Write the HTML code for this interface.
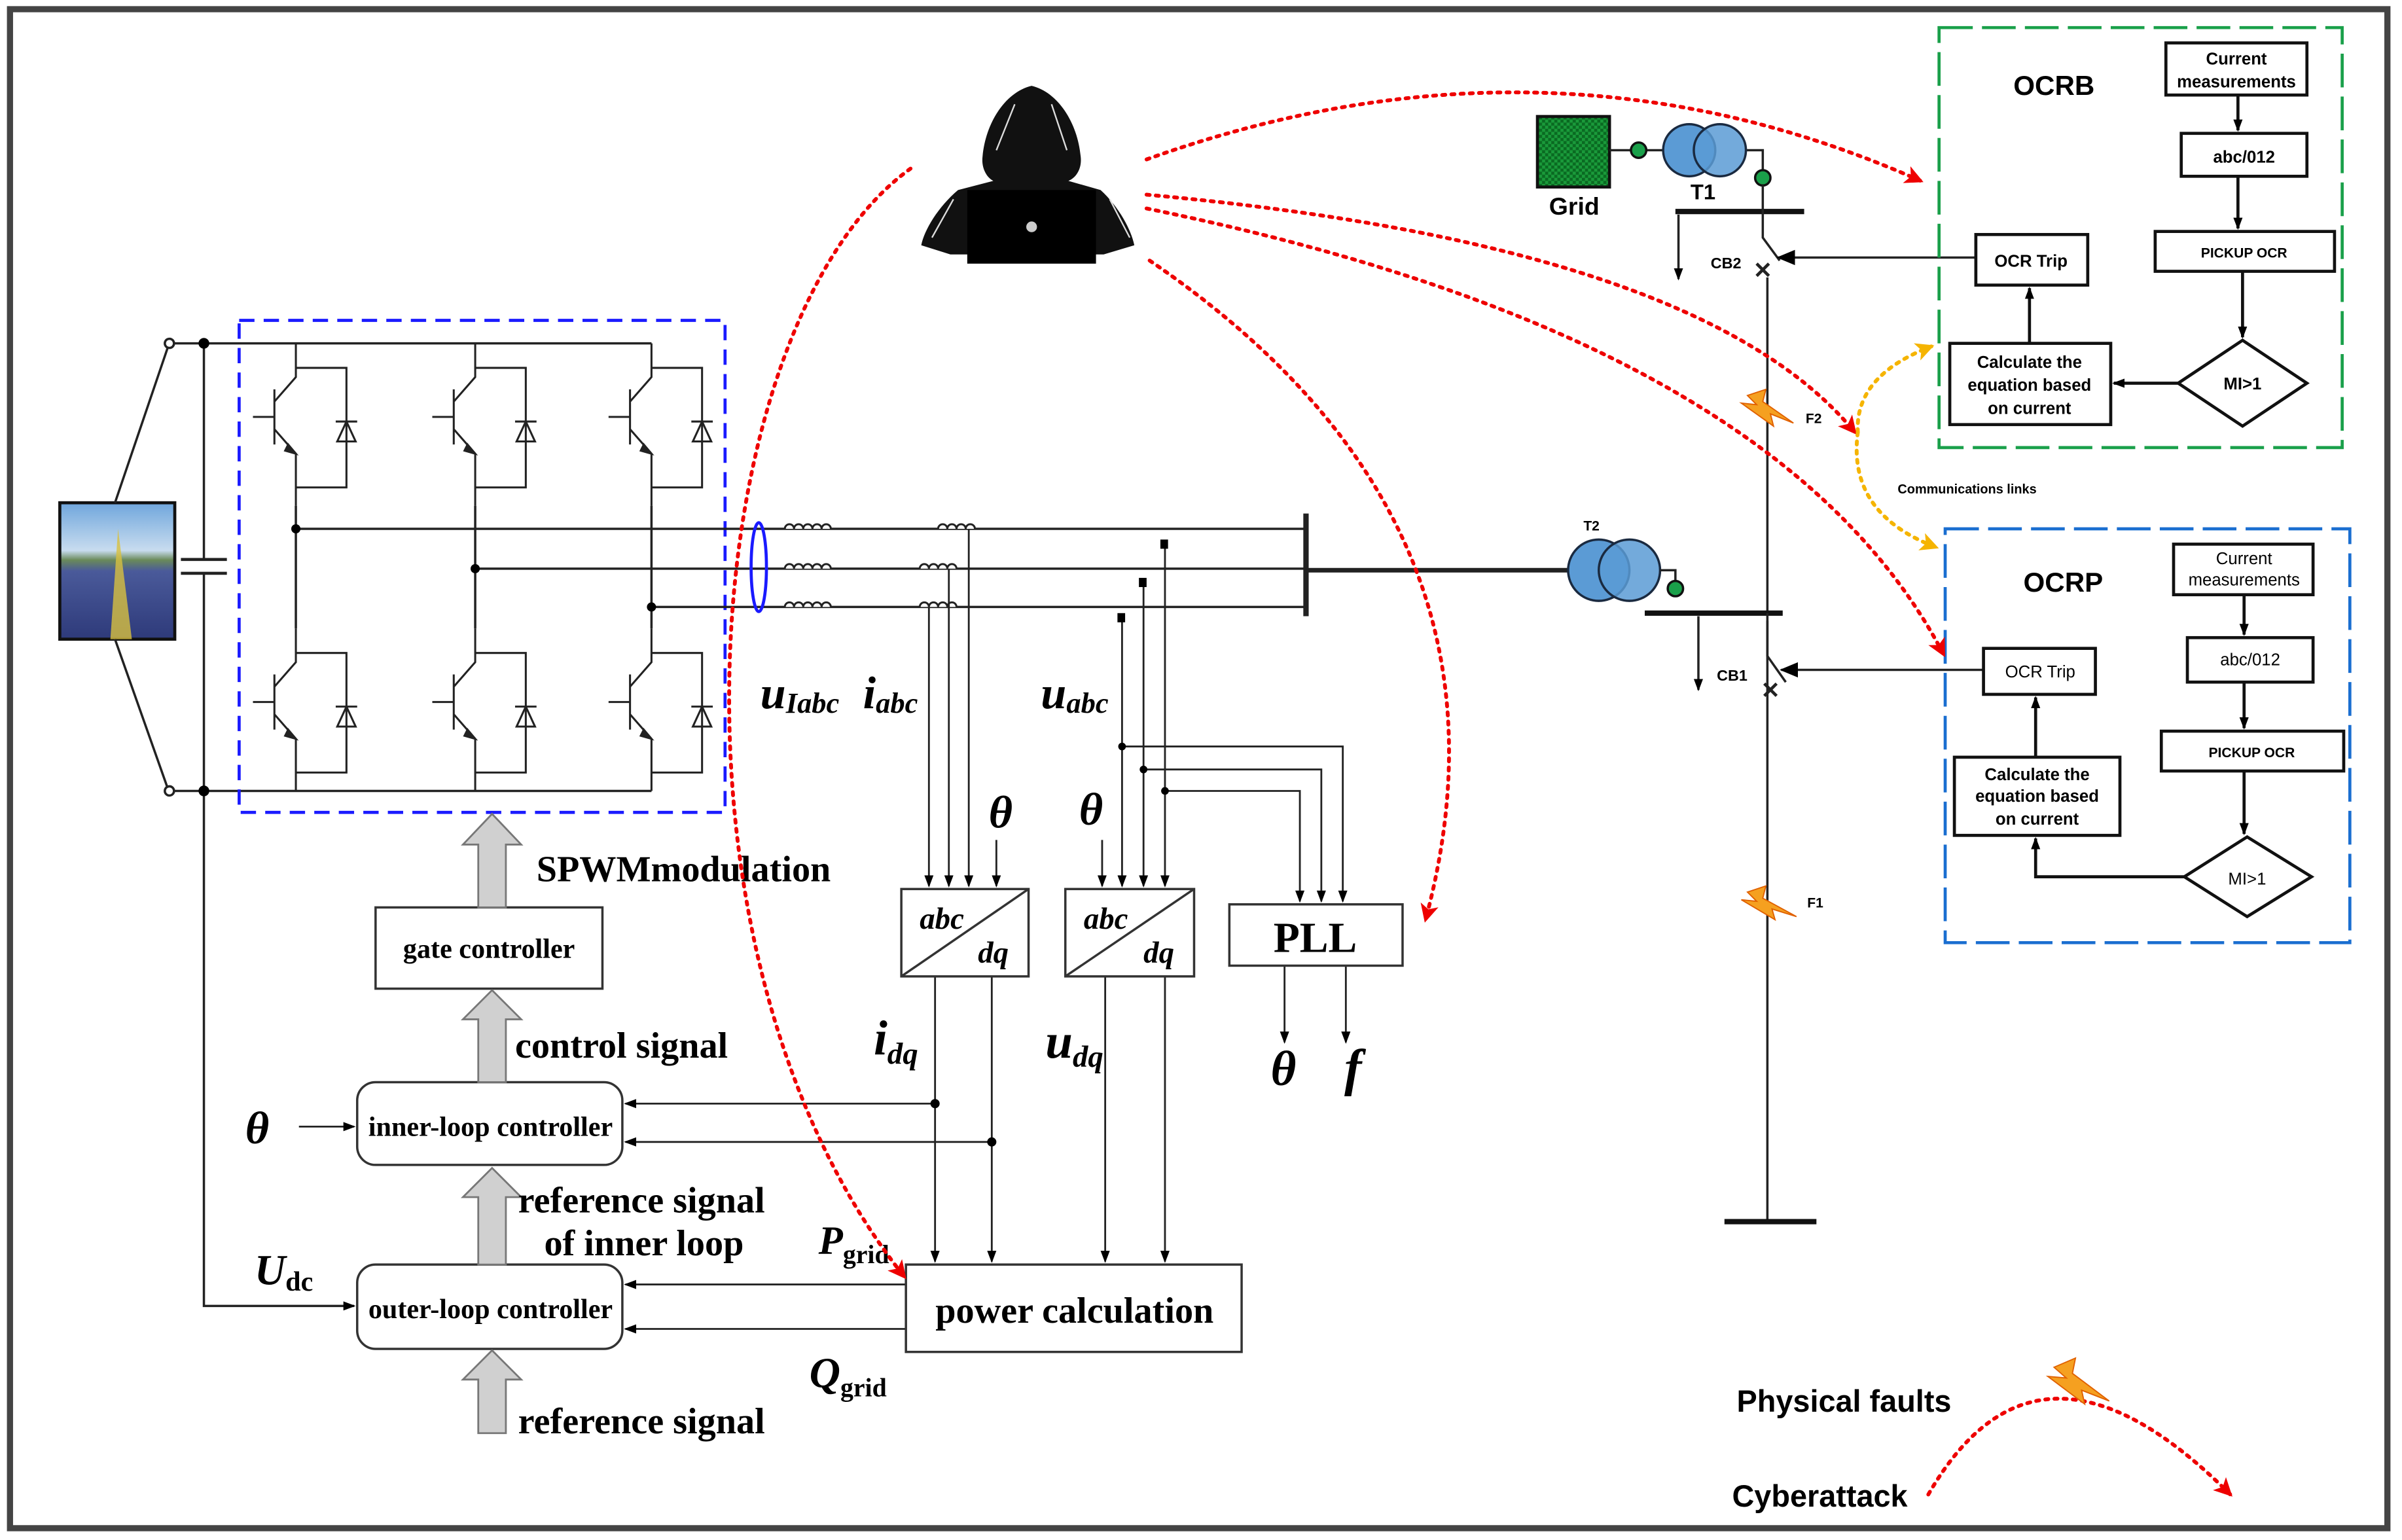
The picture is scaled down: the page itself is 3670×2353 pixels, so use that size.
<!DOCTYPE html>
<html><head><meta charset="utf-8"><style>
html,body{margin:0;padding:0;background:#fff;}
svg{display:block;}
.s{font-family:"Liberation Serif",serif;font-weight:bold;}
.m{font-family:"Liberation Serif",serif;font-weight:bold;font-style:italic;}
.a{font-family:"Liberation Sans",sans-serif;font-weight:bold;}
</style></head><body>
<svg width="3670" height="2353" viewBox="0 0 1567 1004.7" xmlns="http://www.w3.org/2000/svg">
<defs>
<marker id="ab" markerWidth="8" markerHeight="8" refX="7" refY="4" orient="auto" markerUnits="userSpaceOnUse"><path d="M0,1 L8,4 L0,7 Z" fill="#000"/></marker>
<marker id="ab2" markerWidth="12" markerHeight="12" refX="11" refY="6" orient="auto" markerUnits="userSpaceOnUse"><path d="M0,1 L12,6 L0,11 Z" fill="#000"/></marker>
<marker id="ar" markerWidth="12" markerHeight="12" refX="10" refY="6" orient="auto" markerUnits="userSpaceOnUse"><path d="M0,0 L12,6 L0,12 L3,6 Z" fill="#e00"/></marker>
<marker id="ay" markerWidth="12" markerHeight="12" refX="10" refY="6" orient="auto" markerUnits="userSpaceOnUse"><path d="M0,0 L12,6 L0,12 L3,6 Z" fill="#f5b400"/></marker>
<linearGradient id="pv" x1="0" y1="0" x2="0" y2="1"><stop offset="0" stop-color="#6fa6dc"/><stop offset="0.35" stop-color="#c8dcef"/><stop offset="0.42" stop-color="#6a8a5a"/><stop offset="0.5" stop-color="#4a5a9a"/><stop offset="1" stop-color="#2e3a7a"/></linearGradient>
<pattern id="gp" width="4" height="4" patternUnits="userSpaceOnUse"><rect width="4" height="4" fill="#1a9a3a"/><rect width="2" height="2" fill="#0a6a22"/><rect x="2" y="2" width="2" height="2" fill="#0a6a22"/></pattern>
<g id="sw" fill="none" stroke="#222" stroke-width="1.3">
<path d="M0,0 V22 L-14,38 M-14,30 V66 M-28,48 H-14 M-14,56 L0,72 V106"/>
<path d="M-5,66 L0,72 L-7,70 Z" fill="#222"/>
<path d="M0,16 H33 V94 H0"/>
<path d="M27,64 L39,64 L33,51 Z M26,51 H40"/>
</g>
</defs>
<rect x="0" y="0" width="1567" height="1004.7" fill="#fff"/>
<rect x="6.5" y="6" width="1551" height="991" fill="none" stroke="#444" stroke-width="4"/>

<!-- PV -->
<rect x="39" y="328" width="75" height="89" fill="url(#pv)" stroke="#111" stroke-width="2"/>
<path d="M77,345 L72,417 L86,417 Z" fill="#d8c040" opacity="0.8"/>
<g stroke="#222" stroke-width="1.5" fill="none">
<path d="M75,328 L110,225 M75,417 L110,516"/>
<circle cx="110.5" cy="224" r="3" fill="#fff"/><circle cx="110.5" cy="516" r="3" fill="#fff"/>
<path d="M113,224 H425 M113,516 H425 M133,224 V365 M133,374 V852 H231" />
<path d="M118,365 H148 M118,374 H148" stroke-width="2"/>
</g>
<circle cx="133" cy="224" r="3.5"/><circle cx="133" cy="516" r="3.5"/>
<path d="M133,852 H231" stroke="#222" marker-end="url(#ab)"/>

<!-- inverter -->
<rect x="156" y="209" width="317" height="321" fill="none" stroke="#1a1aff" stroke-width="2" stroke-dasharray="10 6"/>
<use href="#sw" x="193" y="224"/><use href="#sw" x="310" y="224"/><use href="#sw" x="425" y="224"/>
<use href="#sw" x="193" y="410"/><use href="#sw" x="310" y="410"/><use href="#sw" x="425" y="410"/>
<g stroke="#222" stroke-width="1.5" fill="none">
<path d="M193,330 V410 M310,330 V410 M425,330 V410"/>
<path d="M193,345 H852 M310,371 H852 M425,396 H852"/>
<path d="M852,335 V402" stroke-width="3.5"/>
<path d="M852,372 H1023" stroke-width="3"/>
</g>
<circle cx="193" cy="345" r="3"/><circle cx="310" cy="371" r="3"/><circle cx="425" cy="396" r="3"/>
<!-- inductors -->
<g fill="#fff" stroke="#222" stroke-width="1.3">
<path d="M512,345 a3,3 0 0 1 6,0 a3,3 0 0 1 6,0 a3,3 0 0 1 6,0 a3,3 0 0 1 6,0 a3,3 0 0 1 6,0"/>
<path d="M512,371 a3,3 0 0 1 6,0 a3,3 0 0 1 6,0 a3,3 0 0 1 6,0 a3,3 0 0 1 6,0 a3,3 0 0 1 6,0"/>
<path d="M512,396 a3,3 0 0 1 6,0 a3,3 0 0 1 6,0 a3,3 0 0 1 6,0 a3,3 0 0 1 6,0 a3,3 0 0 1 6,0"/>
<path d="M612,345 a3,3 0 0 1 6,0 a3,3 0 0 1 6,0 a3,3 0 0 1 6,0 a3,3 0 0 1 6,0"/>
<path d="M600,371 a3,3 0 0 1 6,0 a3,3 0 0 1 6,0 a3,3 0 0 1 6,0 a3,3 0 0 1 6,0"/>
<path d="M600,396 a3,3 0 0 1 6,0 a3,3 0 0 1 6,0 a3,3 0 0 1 6,0 a3,3 0 0 1 6,0"/>
</g>
<ellipse cx="495" cy="370" rx="5" ry="29" fill="none" stroke="#1a1aff" stroke-width="2"/>

<!-- taps -->
<g stroke="#222" stroke-width="1.2" fill="none">
<path d="M606,396 V578" marker-end="url(#ab)"/>
<path d="M619,371 V578" marker-end="url(#ab)"/>
<path d="M632,345 V578" marker-end="url(#ab)"/>
<path d="M650,548 V578" marker-end="url(#ab)"/>
<path d="M732,403 V578" marker-end="url(#ab)"/>
<path d="M746,380 V578" marker-end="url(#ab)"/>
<path d="M760,355 V578" marker-end="url(#ab)"/>
<path d="M719,548 V578" marker-end="url(#ab)"/>
<path d="M732,487 H876 V588" marker-end="url(#ab)"/>
<path d="M746,502 H862 V588" marker-end="url(#ab)"/>
<path d="M760,516 H848 V588" marker-end="url(#ab)"/>
<path d="M838,630 V680" marker-end="url(#ab)"/>
<path d="M878,630 V680" marker-end="url(#ab)"/>
<path d="M610,637 V823" marker-end="url(#ab)"/>
<path d="M647,637 V823" marker-end="url(#ab)"/>
<path d="M721,637 V823" marker-end="url(#ab)"/>
<path d="M760,637 V823" marker-end="url(#ab)"/>
<path d="M610,720 H408" marker-end="url(#ab)"/>
<path d="M647,745 H408" marker-end="url(#ab)"/>
<path d="M591,838 H408" marker-end="url(#ab)"/>
<path d="M591,867 H408" marker-end="url(#ab)"/>
<path d="M195,735 H231" marker-end="url(#ab)"/>
</g>
<rect x="729" y="400" width="5" height="6"/><rect x="743" y="377" width="5" height="6"/><rect x="757" y="352" width="5" height="6"/>
<circle cx="732" cy="487" r="2.5"/><circle cx="746" cy="502" r="2.5"/><circle cx="760" cy="516" r="2.5"/>
<circle cx="610" cy="720" r="3"/><circle cx="647" cy="745" r="3"/>

<!-- blocks -->
<g fill="#fff" stroke="#333" stroke-width="1.5">
<rect x="588" y="580" width="83" height="57"/><rect x="695" y="580" width="84" height="57"/>
<rect x="802" y="590" width="113" height="40"/>
<rect x="245" y="592" width="148" height="53"/>
<rect x="233" y="706" width="173" height="54" rx="12"/>
<rect x="233" y="825" width="173" height="55" rx="12"/>
<rect x="591" y="825" width="219" height="57"/>
</g>
<path d="M588,637 L671,580 M695,637 L779,580" stroke="#333" stroke-width="1.5"/>
<text x="600" y="606" class="m" font-size="20">abc</text><text x="638" y="628" class="m" font-size="20">dq</text>
<text x="707" y="606" class="m" font-size="20">abc</text><text x="746" y="628" class="m" font-size="20">dq</text>
<text x="858" y="621" class="s" font-size="28" text-anchor="middle" font-weight="normal">PLL</text>
<text x="319" y="625" class="s" font-size="18" text-anchor="middle">gate controller</text>
<text x="320" y="741" class="s" font-size="18" text-anchor="middle">inner-loop controller</text>
<text x="320" y="860" class="s" font-size="18" text-anchor="middle">outer-loop controller</text>
<text x="701" y="863" class="s" font-size="24" text-anchor="middle">power calculation</text>

<!-- gray arrows -->
<g fill="#d0d0d0" stroke="#777" stroke-width="1.2">
<path d="M312,592 V551 H302 L321,531 L340,551 H330 V592 Z"/>
<path d="M312,706 V665 H302 L321,646 L340,665 H330 V706 Z"/>
<path d="M312,825 V781 H302 L321,762 L340,781 H330 V825 Z"/>
<path d="M312,935 V900 H302 L321,881 L340,900 H330 V935 Z"/>
</g>
<text x="350" y="575" class="s" font-size="24">SPWMmodulation</text>
<text x="336" y="690" class="s" font-size="24">control signal</text>
<text x="338" y="791" class="s" font-size="24">reference signal</text>
<text x="355" y="819" class="s" font-size="24">of inner loop</text>
<text x="338" y="935" class="s" font-size="24">reference signal</text>

<!-- math labels -->
<text x="496" y="462" class="m" font-size="30">u<tspan font-size="19" dy="3">Iabc</tspan></text>
<text x="563" y="462" class="m" font-size="30">i<tspan font-size="19" dy="3">abc</tspan></text>
<text x="679" y="462" class="m" font-size="30" font-weight="normal">u<tspan font-size="19" dy="3" font-weight="bold">abc</tspan></text>
<text x="645" y="540" class="m" font-size="30" font-weight="normal">θ</text>
<text x="704" y="538" class="m" font-size="30" font-weight="normal">θ</text>
<text x="570" y="688" class="m" font-size="32">i<tspan font-size="20" dy="6">dq</tspan></text>
<text x="682" y="690" class="m" font-size="32" font-weight="normal">u<tspan font-size="20" dy="6">dq</tspan></text>
<text x="829" y="708" class="m" font-size="32">θ</text>
<text x="877" y="708" class="m" font-size="34">f</text>
<text x="160" y="746" class="m" font-size="30">θ</text>
<text x="166" y="838" class="m" font-size="28">U<tspan class="s" font-style="normal" font-size="18" dy="4">dc</tspan></text>
<text x="534" y="818" class="m" font-size="26" font-weight="normal">P<tspan class="s" font-style="normal" font-size="17" dy="6">grid</tspan></text>
<text x="528" y="905" class="m" font-size="28">Q<tspan class="s" font-style="normal" font-size="17" dy="6" font-weight="normal">grid</tspan></text>

<!-- hacker -->
<path d="M673,56 C656,60 643,80 641,102 C640,110 644,116 648,118 L625,124 C612,135 603,150 601,160 L620,166 L720,166 L740,160 C738,150 730,135 718,124 L697,118 C702,116 706,110 705,102 C703,80 690,60 673,56 Z" fill="#111"/>
<path d="M622,130 L608,155 M724,130 L737,155 M662,68 L650,98 M686,68 L696,98" stroke="#ddd" stroke-width="1"/>
<rect x="631" y="124" width="84" height="48" fill="#000"/>
<circle cx="673" cy="148" r="3.5" fill="#ccc"/>

<!-- grid side -->
<rect x="1003" y="76" width="47" height="46" fill="url(#gp)" stroke="#111" stroke-width="2"/>
<text x="1027" y="140" class="a" font-size="16" font-weight="normal" text-anchor="middle">Grid</text>
<g stroke="#222" stroke-width="1.5" fill="none">
<path d="M1050,98 H1085 M1139,98 H1150 V112"/>
</g>
<circle cx="1069" cy="98" r="5" fill="#1aa04a" stroke="#111" stroke-width="1.5"/>
<circle cx="1102" cy="98" r="17" fill="#5b9bd5" stroke="#1a2a40" stroke-width="1.5"/>
<circle cx="1122" cy="98" r="17" fill="#5b9bd5" stroke="#1a2a40" stroke-width="1.5" fill-opacity="0.85"/>
<circle cx="1150" cy="116" r="5" fill="#1aa04a" stroke="#111" stroke-width="1.5"/>
<text x="1111" y="130" class="a" font-size="14" font-weight="normal" text-anchor="middle">T1</text>
<path d="M1093,138 H1177" stroke="#111" stroke-width="3.5"/>
<g stroke="#222" stroke-width="1.5" fill="none">
<path d="M1150,121 V155 L1161,170" />
<path d="M1095,140 V182" marker-end="url(#ab)"/>
<path d="M1153,181 V400 M1153,405 V797"/>
<path d="M1146,172 L1154,180 M1154,172 L1146,180" stroke-width="2"/>
<path d="M1289,168 H1160" marker-end="url(#ab2)"/>
</g>
<text x="1116" y="175" class="a" font-size="10">CB2</text>
<path d="M1125,797 H1185" stroke="#111" stroke-width="3.5"/>
<!-- T2 -->
<circle cx="1043" cy="372" r="20" fill="#5b9bd5" stroke="#1a2a40" stroke-width="1.5"/>
<circle cx="1063" cy="372" r="20" fill="#5b9bd5" stroke="#1a2a40" stroke-width="1.5" fill-opacity="0.85"/>
<text x="1033" y="346" class="a" font-size="9">T2</text>
<path d="M1083,372 H1093 V380" stroke="#222" stroke-width="1.5" fill="none"/>
<circle cx="1093" cy="384" r="5" fill="#1aa04a" stroke="#111" stroke-width="1.5"/>
<path d="M1073,400 H1163" stroke="#111" stroke-width="3.5"/>
<g stroke="#222" stroke-width="1.5" fill="none">
<path d="M1108,402 V450" marker-end="url(#ab)"/>
<path d="M1153,400 V428 L1165,445"/>
<path d="M1151,446 L1159,454 M1159,446 L1151,454" stroke-width="2"/>
<path d="M1294,437 H1162" marker-end="url(#ab2)"/>
</g>
<text x="1120" y="444" class="a" font-size="10">CB1</text>
<!-- lightning -->
<path d="M1140,258 L1152,254 L1150,262 L1170,276 L1155,270 L1157,278 L1136,263 L1146,264 Z" fill="#f5a020" stroke="#e06000" stroke-width="0.8"/>
<text x="1178" y="276" class="a" font-size="9">F2</text>
<path d="M1140,582 L1152,578 L1150,586 L1172,598 L1156,593 L1158,600 L1136,587 L1146,588 Z" fill="#f5a020" stroke="#e06000" stroke-width="0.8"/>
<text x="1179" y="592" class="a" font-size="9">F1</text>

<!-- OCRB -->
<rect x="1265" y="18" width="263" height="274" fill="none" stroke="#1aa04a" stroke-width="2" stroke-dasharray="22 6"/>
<text x="1340" y="62" class="a" font-size="18" font-weight="normal" text-anchor="middle">OCRB</text>
<g fill="#fff" stroke="#111" stroke-width="2">
<rect x="1413" y="28" width="92" height="34"/>
<rect x="1423" y="87" width="82" height="28"/>
<rect x="1406" y="151" width="117" height="26"/>
<rect x="1289" y="153" width="73" height="33"/>
<rect x="1272" y="224" width="105" height="53"/>
<path d="M1421,250 L1463,222 L1505,250 L1463,278 Z"/>
</g>
<g stroke="#111" stroke-width="2" fill="none">
<path d="M1460,62 V85" marker-end="url(#ab)"/>
<path d="M1460,115 V149" marker-end="url(#ab)"/>
<path d="M1463,177 V220" marker-end="url(#ab)"/>
<path d="M1421,250 H1379" marker-end="url(#ab)"/>
<path d="M1324,224 V188" marker-end="url(#ab)"/>
</g>
<g class="a" font-size="11" text-anchor="middle">
<text x="1459" y="42">Current</text><text x="1459" y="57">measurements</text>
<text x="1464" y="106">abc/012</text>
<text x="1464" y="168" font-size="9">PICKUP  OCR</text>
<text x="1325" y="174">OCR Trip</text>
<text x="1324" y="240">Calculate the</text><text x="1324" y="255">equation based</text><text x="1324" y="270">on current</text>
<text x="1463" y="254">MI&gt;1</text>
</g>
<!-- OCRP -->
<rect x="1269" y="345" width="264" height="270" fill="none" stroke="#1a6ed0" stroke-width="2" stroke-dasharray="22 6"/>
<text x="1346" y="386" class="a" font-size="18" font-weight="normal" text-anchor="middle">OCRP</text>
<g fill="#fff" stroke="#111" stroke-width="2">
<rect x="1418" y="355" width="91" height="33"/>
<rect x="1427" y="416" width="82" height="29"/>
<rect x="1410" y="477" width="119" height="26"/>
<rect x="1294" y="423" width="73" height="30"/>
<rect x="1275" y="494" width="108" height="51"/>
<path d="M1425,572 L1466,546 L1508,572 L1466,598 Z"/>
</g>
<g stroke="#111" stroke-width="2" fill="none">
<path d="M1464,388 V414" marker-end="url(#ab)"/>
<path d="M1464,445 V475" marker-end="url(#ab)"/>
<path d="M1464,503 V544" marker-end="url(#ab)"/>
<path d="M1425,572 H1328 V547" marker-end="url(#ab)"/>
<path d="M1328,494 V455" marker-end="url(#ab)"/>
</g>
<g class="a" font-size="11" text-anchor="middle">
<text x="1464" y="368" font-weight="normal">Current</text><text x="1464" y="382" font-weight="normal">measurements</text>
<text x="1468" y="434" font-weight="normal">abc/012</text>
<text x="1469" y="494" font-size="9">PICKUP  OCR</text>
<text x="1331" y="442" font-weight="normal">OCR Trip</text>
<text x="1329" y="509">Calculate the</text><text x="1329" y="523">equation based</text><text x="1329" y="538">on current</text>
<text x="1466" y="577" font-weight="normal">MI&gt;1</text>
</g>
<text x="1238" y="322" class="a" font-size="8.5">Communications links</text>

<!-- cyber curves -->
<g fill="none" stroke="#e00" stroke-width="2.5" stroke-dasharray="2 4" stroke-linecap="round">
<path d="M594,110 C455,210 420,620 590,833" marker-end="url(#ar)"/>
<path d="M748,104 Q1010,10 1253,118" marker-end="url(#ar)"/>
<path d="M748,127 Q1110,160 1210,282" marker-end="url(#ar)"/>
<path d="M748,136 Q1160,220 1268,427" marker-end="url(#ar)"/>
<path d="M750,170 Q1000,340 930,600" marker-end="url(#ar)"/>
<path d="M1258,975 Q1330,850 1455,975" marker-end="url(#ar)"/>
</g>
<g fill="none" stroke="#f5b400" stroke-width="2.5" stroke-dasharray="2 4" stroke-linecap="round">
<path d="M1212,282 Q1210,245 1260,226" marker-end="url(#ay)"/>
<path d="M1212,282 Q1205,335 1263,357" marker-end="url(#ay)"/>
</g>
<!-- legend -->
<text x="1133" y="921" class="a" font-size="20">Physical faults</text>
<path d="M1340,892 L1354,886 L1352,896 L1376,914 L1358,907 L1360,916 L1336,898 L1348,899 Z" fill="#f5a020" stroke="#e06000" stroke-width="0.8"/>
<text x="1130" y="983" class="a" font-size="20">Cyberattack</text>
</svg>
</body></html>
